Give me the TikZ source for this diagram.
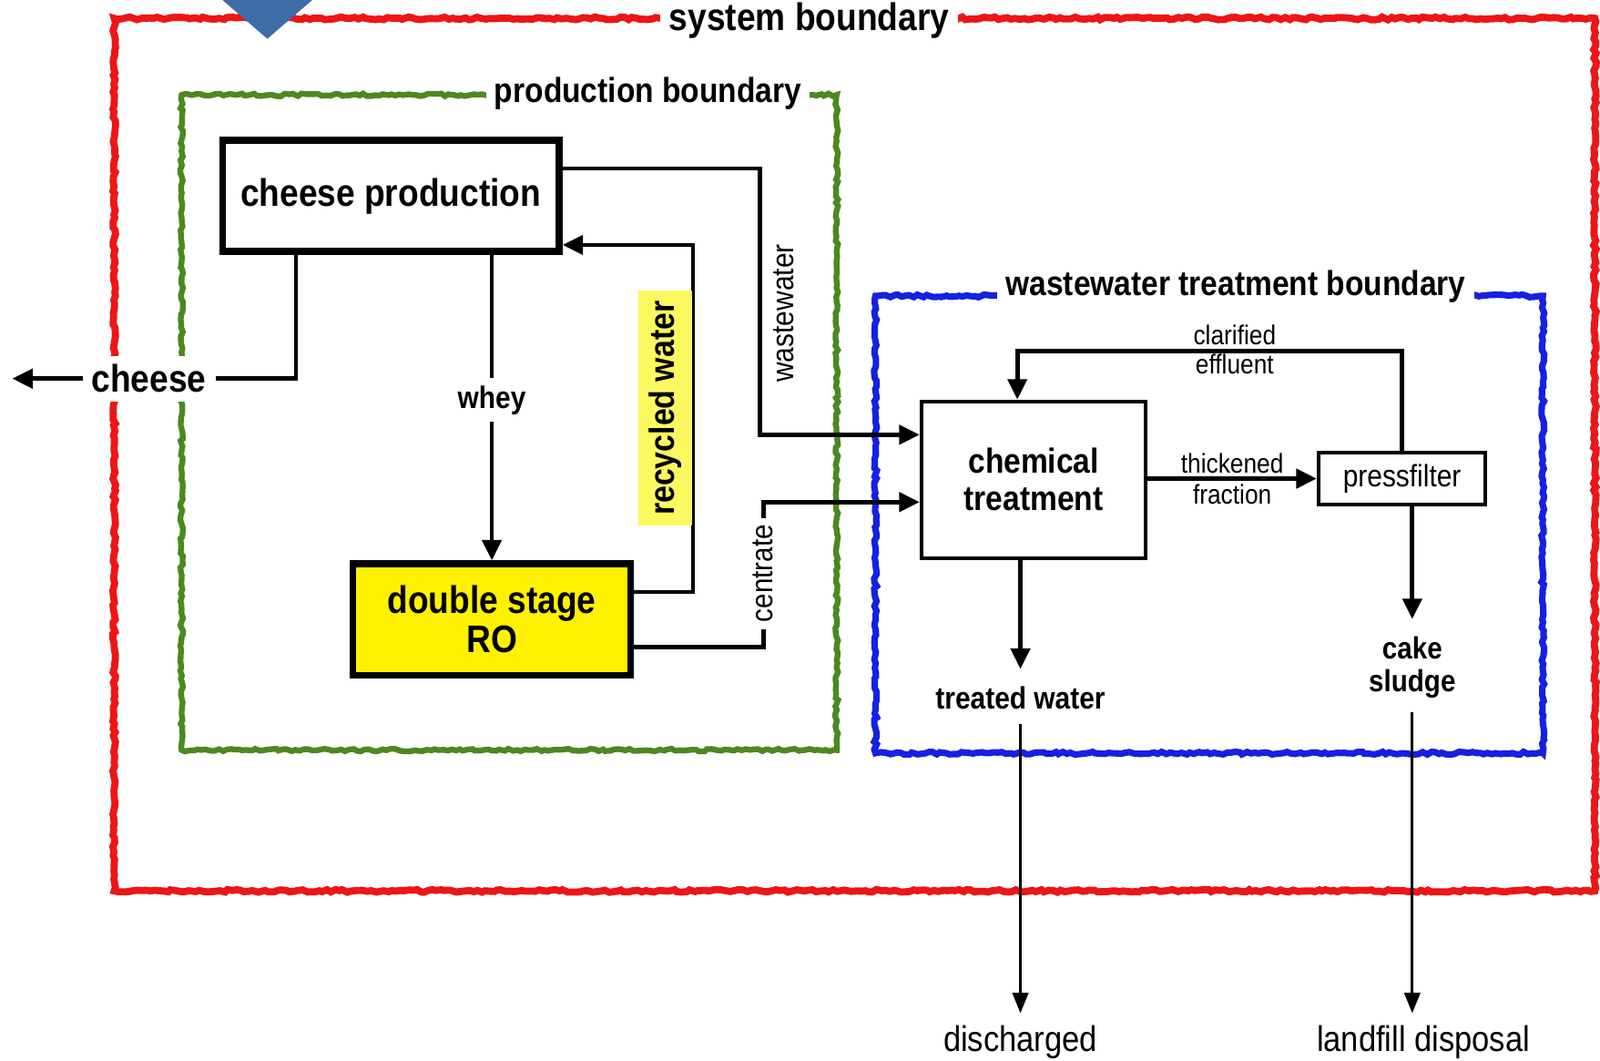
\documentclass[tikz,border=0pt]{standalone}
\usepackage{fontspec}
\setmainfont{Liberation Sans}[FakeStretch=0.88]
\usetikzlibrary{arrows.meta,decorations.pathmorphing}

\definecolor{sysred}{RGB}{236,22,22}
\definecolor{prodgreen}{RGB}{76,136,32}
\definecolor{wwblue}{RGB}{22,32,226}
\definecolor{markblue}{RGB}{62,108,166}
\definecolor{hiyellow}{RGB}{252,248,96}

\begin{document}
\begin{tikzpicture}
        [x=0.3pt, y=-0.3pt,
        bigbox/.style={rectangle, draw, line width=2pt, align=center, font=\bfseries\fontsize{11.3}{12}\selectfont},
        unitbox/.style={rectangle, draw, line width=1.1pt, align=center, font=\bfseries\fontsize{10.2}{11}\selectfont},
        filterbox/.style={rectangle, draw, line width=1.2pt, font=\fontsize{9.1}{10}\selectfont},
        flow/.style={line width=1.25pt},
        arr/.style={flow, -{Triangle[length=6pt, width=5.6pt]}},
        longarr/.style={line width=0.85pt, -{Triangle[length=6pt, width=4.6pt]}},
        tag/.style={font=\bfseries\fontsize{9.1}{10}\selectfont, inner sep=2pt, align=center},
        note/.style={font=\fontsize{8}{9}\selectfont, inner sep=1pt},
        boundary/.style={line width=2pt, decorate, decoration={random steps, segment length=1.2pt, amplitude=0.4pt}},
        btitle/.style={fill=white, inner sep=2.5pt}]

        \useasboundingbox (0,0) rectangle (1568,1039);

        % boundaries
        \draw[boundary, sysred, line width=2.1pt] (112,18) rectangle (1563,873);
        \draw[boundary, prodgreen, line width=1.7pt] (178,93) rectangle (820,735);
        \draw[boundary, wwblue, line width=1.9pt] (858,290) rectangle (1512,738);
        \node[btitle, font=\bfseries\fontsize{11.3}{12}\selectfont] (sysb) at (793,20) {system boundary};
        \node[btitle, font=\bfseries\fontsize{10.2}{11}\selectfont] (prodb) at (635,92) {production boundary};
        \node[btitle, font=\bfseries\fontsize{10.2}{11}\selectfont] (wwb) at (1211,281) {wastewater treatment boundary};
        \fill[markblue] (218,0) -- (306,0) -- (262,38) -- cycle;

        % units
        \node[bigbox, minimum width=99pt, minimum height=32.7pt] (cp) at (383,192) {cheese production};
        \node[bigbox, fill=yellow, minimum width=81.6pt, minimum height=32.7pt] (ro) at (482,607) {double stage\\[-0.5pt]RO};
        \node[unitbox, minimum width=66pt, minimum height=46pt] (ct) at (1013,470) {chemical\\treatment};
        \node[filterbox, minimum width=49pt, minimum height=12.6pt] (pf) at (1374,469) {pressfilter};

        % streams
        \node[fill=white, font=\bfseries\fontsize{11.3}{12}\selectfont, inner sep=2.5pt] (cheese) at (146,371) {cheese};
        \node[tag] (whey) at (482,392) {whey};
        \node[tag] (tw) at (1000,684) {treated water};
        \node[tag, font=\bfseries\fontsize{9}{9.6}\selectfont] (cs) at (1384,654) {cake\\sludge};
        \node[font=\fontsize{10.5}{11}\selectfont] (dis) at (1000,1021) {discharged};
        \node[font=\fontsize{10.5}{11}\selectfont] (ld) at (1395,1021) {landfill disposal};

        \coordinate (kc) at (290,372);
        \coordinate (cheeseout) at (12,371);
        \coordinate (rwbot) at (679,580);
        \coordinate (rwtop) at (679,240);
        \coordinate (wwtop) at (745,165);
        \coordinate (wwbot) at (745,426);
        \coordinate (cebot) at (748,634);
        \coordinate (cetop) at (748,492);
        \coordinate (clar) at (997,344);

        \draw[flow] (cp.south -| kc) |- (cheese);
        \draw[arr] (cheese) -- (cheeseout);
        \draw[flow] (cp.south -| whey) -- (whey);
        \draw[arr] (whey) -- (ro.north);
        \draw[arr] (ro.east |- rwbot) -| (rwtop) -- (cp.east |- rwtop);
        \draw[arr] (cp.east |- wwtop) -| (wwbot) -- (ct.west |- wwbot);
        \draw[arr] (ro.east |- cebot) -| (cetop) -- (ct.west |- cetop);
        \draw[arr] (ct.east |- pf) -- (pf.west)
            node[midway, above, note] {thickened} node[midway, below, note] {fraction};
        \draw[arr] (pf.north) |- (clar) -- (ct.north -| clar);
        \draw[arr] (ct.south -| tw) -- ([yshift=3pt]tw.north);
        \draw[arr] (pf.south -| cs) -- ([yshift=3pt]cs.north);
        \draw[longarr] ([yshift=-2pt]tw.south) -- (tw.south |- dis.north);
        \draw[longarr] ([yshift=-2pt]cs.south) -- (cs.south |- ld.north);

        % stream labels
        \node[tag, rotate=90, fill=hiyellow, font=\bfseries\fontsize{10.3}{11}\selectfont, inner sep=3pt] (rw) at (652,400) {recycled water};
        \node[note, rotate=90, font=\fontsize{9.1}{10}\selectfont] (ww) at (768,307) {wastewater};
        \node[note, rotate=90, fill=white, font=\fontsize{9}{10}\selectfont, inner sep=2pt] (ce) at (748,562) {centrate};
        \node[note] (clarup) at (1210,328) {clarified};
        \node[note] (clardown) at (1210,357) {effluent};

    \end{tikzpicture}
\end{document}
